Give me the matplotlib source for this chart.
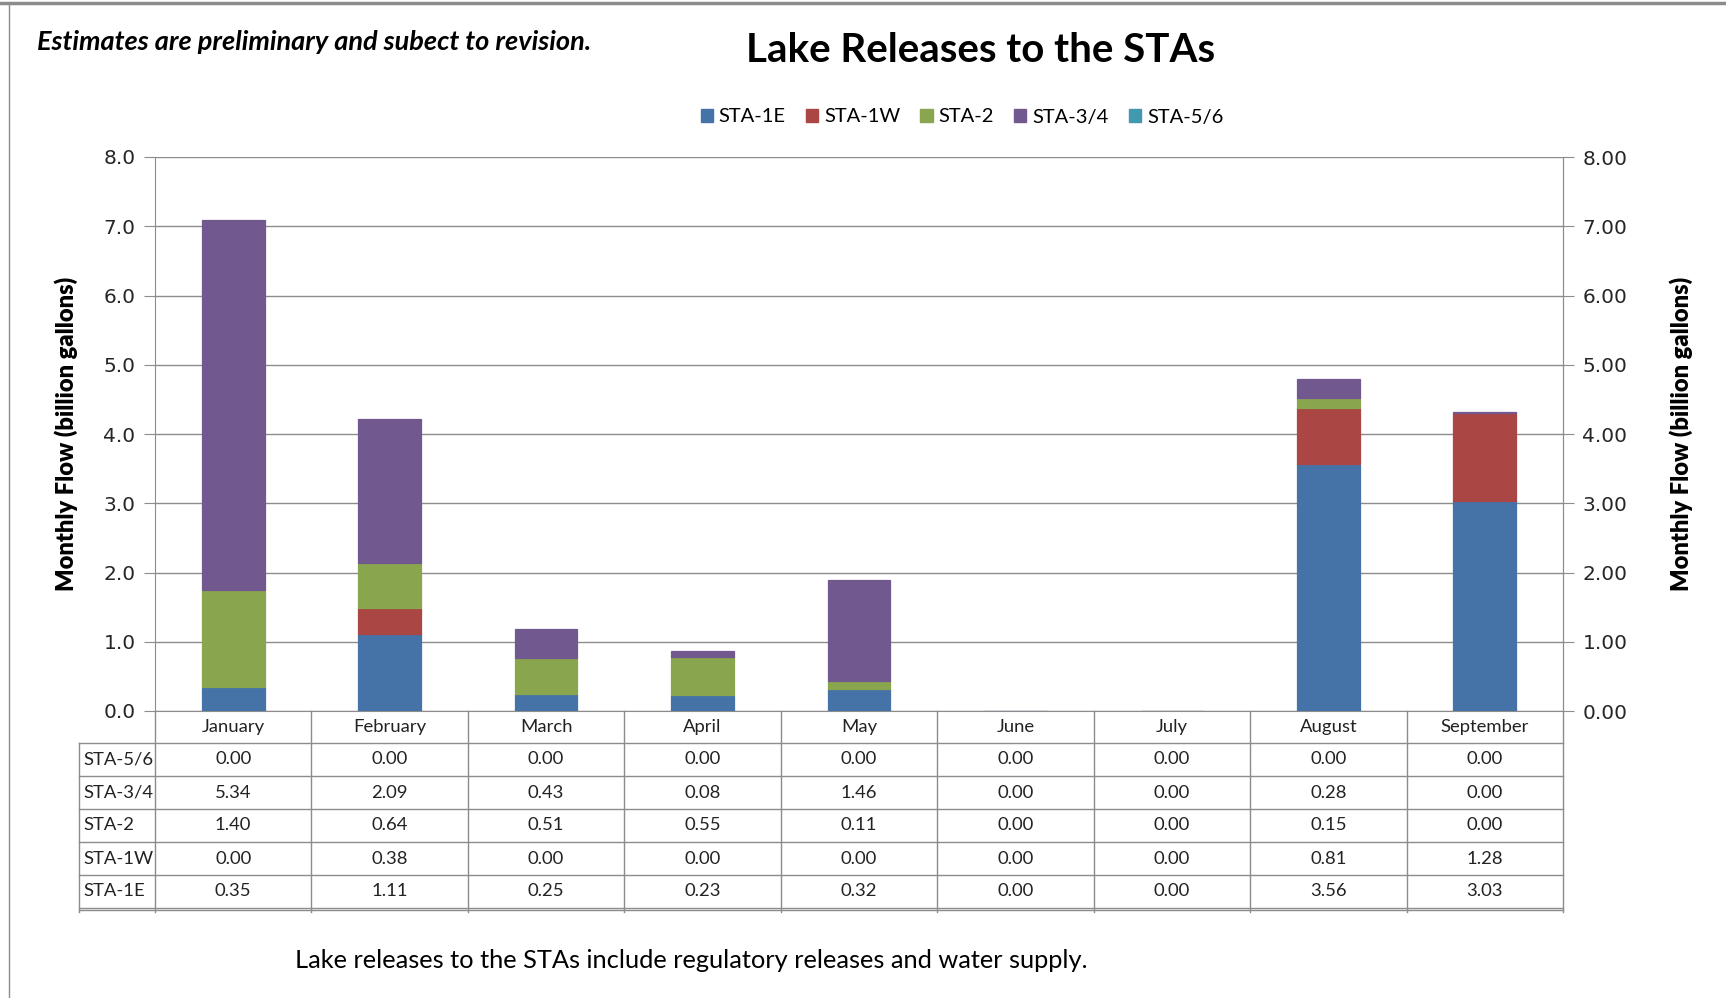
import numpy as np
import matplotlib.pyplot as plt
from matplotlib.patches import Patch
from matplotlib.lines import Line2D

months = ['January', 'February', 'March', 'April', 'May', 'June', 'July', 'August', 'September']
series = ['STA-1E', 'STA-1W', 'STA-2', 'STA-3/4', 'STA-5/6']
sta_1e = [0.35, 1.11, 0.25, 0.23, 0.32, 0.004, 0.0, 3.56, 3.03]
sta_1w = [0.00, 0.38, 0.00, 0.00, 0.00, 0.0, 0.0, 0.81, 1.28]
sta_2 = [1.40, 0.64, 0.51, 0.55, 0.11, 0.0, 0.0, 0.15, 0.00]
sta_34 = [5.34, 2.09, 0.43, 0.08, 1.46, 0.0, 0.004, 0.28, 0.004]
sta_56 = [0.00, 0.00, 0.00, 0.00, 0.00, 0.0, 0.0, 0.00, 0.00]
colors = ['#4572A7', '#AA4643', '#89A54E', '#71588F', '#4198AF']

values = [sta_1e, sta_1w, sta_2, sta_34, sta_56]
grid_c = '#8c8c8c'
txt = 'Lato'

fig = plt.figure(figsize=(17.26, 9.98), dpi=100)
ax = fig.add_axes([155/1726, 1-711/998, 1408/1726, 554/998])
x = np.arange(len(months))
bottom = np.zeros(len(months))
for name, vals, c in zip(series, values, colors):
    v = np.array(vals)
    lws = np.where(v > 0, 0.9, 0.0)
    ax.bar(x, v, 0.4, bottom=bottom, color=c, edgecolor=c, linewidth=lws, label=name, zorder=3)
    bottom += v

ax.set_xlim(-0.5, len(months)-0.5)
ax.set_ylim(0, 8)
ax.set_yticks(np.arange(0, 9, 1))
ax.set_yticklabels(['%.1f' % t for t in np.arange(0, 9, 1)], fontsize=14.5, color='#262626')
ax.yaxis.grid(True, color=grid_c, lw=1, zorder=0)
ax.tick_params(axis='y', length=8, color=grid_c, pad=6)
ax.set_xticks([])
ax.spines['top'].set_visible(False)
for s in ['left', 'right', 'bottom']:
    ax.spines[s].set_color(grid_c)
ax.set_ylabel('Monthly Flow (billion gallons)', fontsize=17, fontweight='heavy', family=txt, labelpad=18)

ax2 = ax.twinx()
ax2.set_ylim(0, 8)
ax2.set_yticks(np.arange(0, 9, 1))
ax2.set_yticklabels(['%.2f' % t for t in np.arange(0, 9, 1)], fontsize=14.5, color='#262626')
ax2.tick_params(axis='y', length=8, color=grid_c, pad=6)
for s in ['top', 'left', 'bottom']:
    ax2.spines[s].set_visible(False)
ax2.spines['right'].set_color(grid_c)
ax2.set_ylabel('Monthly Flow (billion gallons)', fontsize=17, fontweight='heavy', family=txt, labelpad=30)

# data table below the plot
H = 554.0
W = 1408.0
head_h = 32/H
row_h = 33/H
lab_x = -76/W
rows = list(zip(series, values))[::-1]
n = len(rows)
bot_y = -(head_h + n*row_h)
lk = dict(transform=ax.transAxes, clip_on=False, color=grid_c, lw=1)
for i in range(len(months)+1):
    xx = i/len(months)
    ax.plot([xx, xx], [0, bot_y - 4/H], **lk)
ax.plot([lab_x, lab_x], [-head_h, bot_y - 4/H], **lk)
for j in range(n+1):
    yy = -(head_h + j*row_h)
    ax.plot([lab_x, 1], [yy, yy], **lk)
ax.plot([lab_x, 1], [bot_y - 2/H, bot_y - 2/H], **lk)
for i, m in enumerate(months):
    ax.text((i+0.5)/len(months), -head_h/2, m, transform=ax.transAxes, ha='center', va='center',
            fontsize=13.3, family=txt, color='#222222')
for j, (name, vals) in enumerate(rows):
    yc = -(head_h + (j+0.5)*row_h)
    ax.text(lab_x + 4/W, yc, name, transform=ax.transAxes, ha='left', va='center',
            fontsize=13.3, family=txt, color='#222222')
    for i, v in enumerate(vals):
        ax.text((i+0.5)/len(months), yc, '%.2f' % v, transform=ax.transAxes, ha='center', va='center',
                fontsize=13.3, family=txt, color='#222222')

handles = [Patch(facecolor=c, edgecolor=c) for c in colors]
fig.legend(handles, series, loc='center', bbox_to_anchor=(962/1726, 1-117/998), ncol=5, frameon=False,
           handlelength=0.6, handleheight=0.6, handletextpad=0.3, columnspacing=1.0,
           prop={'family': txt, 'size': 14.5})

fig.text(981/1726, 1-51/998, 'Lake Releases to the STAs', ha='center', va='center',
         fontsize=29, fontweight='bold', family=txt)
fig.text(37/1726, 1-42/998, 'Estimates are preliminary and subect to revision.', ha='left', va='center',
         fontsize=19.5, fontweight='bold', style='italic', family=txt)
fig.text(295/1726, 1-960/998, 'Lake releases to the STAs include regulatory releases and water supply.',
         ha='left', va='center', fontsize=18.3, family=txt)

# outer frame
fig.add_artist(Line2D([0, 1], [1-3/998, 1-3/998], transform=fig.transFigure, color='#8c8c8c', lw=2.5))
fig.add_artist(Line2D([9/1726, 9/1726], [0, 1-3/998], transform=fig.transFigure, color='#8c8c8c', lw=1))

fig.savefig('out.png', dpi=100)
